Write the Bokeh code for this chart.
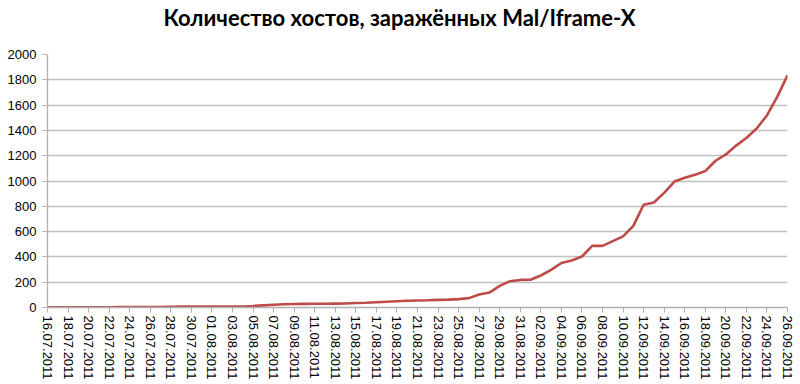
import datetime as dt
from bokeh.plotting import figure
from bokeh.models import Range1d, FixedTicker, DatetimeTickFormatter, Title
from bokeh.embed import file_html
from bokeh.resources import INLINE

title_text = "Количество хостов, заражённых Mal/Iframe-X"

start = dt.datetime(2011, 7, 16)
dates = [start + dt.timedelta(days=i) for i in range(73)]

hosts = [
    1, 1, 1, 2, 2, 2, 2, 3, 3, 3, 3, 4,
    6, 7, 7, 7, 7, 8, 8, 8,
    12, 17, 22, 26, 28, 29, 30, 30, 31, 32,
    36, 38, 42, 46, 50, 53, 55, 57, 60, 62,
    66, 74, 103, 118, 171, 208, 218, 219, 253, 298,
    352, 372, 403, 487, 487, 525, 562, 645, 812, 830,
    906, 996, 1025, 1050, 1078, 1160, 1210, 1280, 1340, 1415,
    1518, 1665, 1835,
]

y_ticks = list(range(0, 2001, 200))
x_tick_dates = dates[::2]

p = figure(width=797, height=382, output_backend="svg", toolbar_location=None,
           x_axis_type="datetime",
           x_range=Range1d(dates[0], dates[-1]), y_range=Range1d(0, 2000),
           min_border_left=47, min_border_right=10, min_border_top=54, min_border_bottom=75)

# thin spacer (closest to the frame) that lifts the real title upwards
spacer = Title(text=" ", text_font_size="1px", standoff=21, text_color="white")
p.add_layout(spacer, "above")

t = Title(text=title_text, align="left", text_font="Lato", text_font_style="bold",
          text_font_size="22px", text_color="#000000", standoff=0, offset=116)
p.add_layout(t, "above")

p.line(dates, hosts, line_color="#be4b48", line_width=2.6)

p.outline_line_color = None
p.background_fill_color = "white"
p.border_fill_color = "white"

p.xgrid.grid_line_color = None
p.ygrid.grid_line_color = "#c0c0c0"
p.ygrid.grid_line_width = 1.3
p.ygrid.ticker = FixedTicker(ticks=y_ticks)

p.yaxis.ticker = FixedTicker(ticks=y_ticks)
p.xaxis.ticker = FixedTicker(ticks=[d.timestamp() * 1000 for d in x_tick_dates])
fmt = "%d.%m.%Y"
p.xaxis.formatter = DatetimeTickFormatter(days=fmt, months=fmt, years=fmt, hours=fmt,
                                          hourmin=fmt, minutes=fmt, minsec=fmt,
                                          seconds=fmt, milliseconds=fmt, microseconds=fmt)
p.xaxis.major_label_orientation = "vertical"

for ax in (p.xaxis, p.yaxis):
    ax.axis_line_color = "#b0b0b0"
    ax.axis_line_width = 1.3
    ax.major_tick_line_color = "#b0b0b0"
    ax.major_tick_out = 5
    ax.major_tick_in = 0
    ax.minor_tick_line_color = None
    ax.major_label_text_font = "Liberation Sans"
    ax.major_label_text_font_size = "13px"
    ax.major_label_text_color = "#000000"
    ax.major_label_standoff = 5

p.yaxis.major_label_standoff = 6
p.xaxis.major_label_standoff = 3

open("out.html", "w").write(file_html(p, INLINE))
